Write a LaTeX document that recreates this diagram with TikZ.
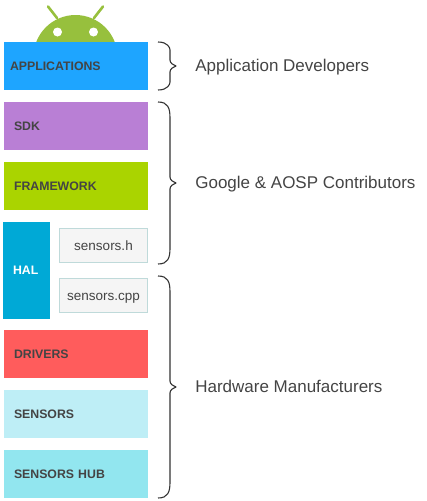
\documentclass[tikz,border=0pt]{standalone}
\usepackage{fontspec}
\setmainfont{Liberation Sans}
\usetikzlibrary{positioning,calc}
\definecolor{robot}{HTML}{97C03D}
\definecolor{ink}{HTML}{444444}
\newcommand{\curly}[4]{%
\draw[curly] (#1) .. controls +(10,0) and +(0,-#4) .. ($(#1)+(12,#4+6)$)
  -- ($(#2)+(-6,-6)$) .. controls +(0,3) and +(-3,-1) .. (#2)
  .. controls +(-3,1) and +(0,-3) .. ($(#2)+(-6,6)$)
  -- ($(#3)+(12,-#4-6)$) .. controls +(0,#4) and +(10,0) .. (#3);}
\begin{document}
\begin{tikzpicture}[
x=1pt,y=-1pt,
outer sep=0pt,
layer/.style={minimum width=144pt,minimum height=48pt,inner sep=0pt,inner xsep=10pt,text width=124pt,align=left,font=\bfseries\fontsize{12.3}{14}\selectfont,text=ink},
srcfile/.style={draw=black!15!teal!25,fill=black!4,line width=.8pt,minimum width=88pt,minimum height=34pt,inner sep=0pt,text height=12pt,text depth=3pt,font=\fontsize{13.5}{15}\selectfont,text=ink},
group/.style={anchor=west,text height=15pt,text depth=4pt,font=\fontsize{17}{19}\selectfont,text=ink},
curly/.style={draw=black!80,line width=1.1pt,line join=round}]
\useasboundingbox (0,0) rectangle (426,501);
% robot peeking out from behind the top layer
\begin{scope}
\clip (30,0) rectangle (120,50);
\fill[robot] (75.5,57) circle (42pt);
\end{scope}
\draw[robot,line width=2.6pt,line cap=round] (48,6.5) -- (57,18);
\draw[robot,line width=2.6pt,line cap=round] (103,6.5) -- (94,18);
\fill[white] (57.5,32) circle (4.5pt);
\fill[white] (93.5,32) circle (4.5pt);
% layers
\node[layer,fill={rgb,255:red,30;green,165;blue,255},inner xsep=6pt,text width=132pt] (app) at (76,66) {APPLICATIONS};
\node[layer,fill={rgb,255:red,185;green,127;blue,213},below=12pt of app] (sdk) {SDK};
\node[layer,fill={rgb,255:red,170;green,212;blue,0},below=12pt of sdk] (fw) {FRAMEWORK};
\node[layer,fill={rgb,255:red,0;green,169;blue,214},text=white,minimum width=47pt,minimum height=97pt,inner xsep=10pt,text width=27pt] (hal) at (26.5,270.5) {HAL};
\node[srcfile] (hdr) at (103.5,245.5) {sensors.h};
\node[srcfile] (cpp) at (103.5,295.5) {sensors.cpp};
\node[layer,fill={rgb,255:red,255;green,92;blue,92}] (drv) at (76,354) {DRIVERS};
\node[layer,fill={rgb,255:red,190;green,238;blue,246},below=12pt of drv] (sens) {SENSORS};
\node[layer,fill={rgb,255:red,146;green,230;blue,239},below=12pt of sens] (hub) {SENSORS HUB};
% braces
\coordinate (a0) at (158,42);
\coordinate (a1) at (176,66);
\coordinate (a2) at (158,90);
\coordinate (b0) at (158,102);
\coordinate (b1) at (176,183);
\coordinate (b2) at (158,264);
\coordinate (c0) at (158,276);
\coordinate (c1) at (176,387);
\coordinate (c2) at (158,498);
\curly{a0}{a1}{a2}{2}
\curly{b0}{b1}{b2}{10}
\curly{c0}{c1}{c2}{10}
% groups
\node[group,right=16pt of a1] (appdev) {Application Developers};
\node[group,right=16pt of b1] (google) {Google \& AOSP Contributors};
\node[group,right=16pt of c1] (hw) {Hardware Manufacturers};
\end{tikzpicture}
\end{document}
